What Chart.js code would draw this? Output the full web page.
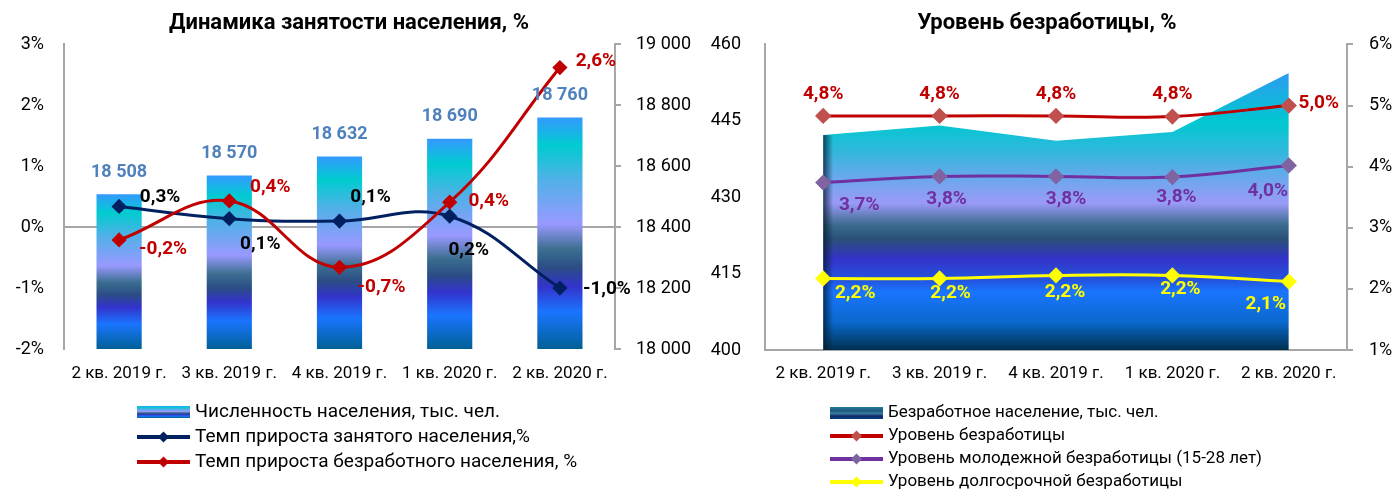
<!DOCTYPE html>
<html>
<head>
<meta charset="utf-8">
<script src="https://cdn.jsdelivr.net/npm/chart.js"></script>
<style>
  body { margin: 0; background: #fff; }
  .wrap { display: flex; width: 1396px; height: 491px; }
  canvas { display: block; }
</style>
</head>
<body>
<div class="wrap">
  <canvas id="employment" width="698" height="491"></canvas>
  <canvas id="unemployment" width="698" height="491"></canvas>
</div>
<script>
var quarters = ['2 кв. 2019 г.', '3 кв. 2019 г.', '4 кв. 2019 г.', '1 кв. 2020 г.', '2 кв. 2020 г.'];

// left chart
var population = [18508, 18570, 18632, 18690, 18760];
var employedGrowth = [0.34, 0.14, 0.1, 0.18, -1.0];
var unemployedGrowth = [-0.21, 0.43, -0.66, 0.41, 2.62];
var growthTicks = [-2, -1, 0, 1, 2, 3];
var populationTicks = [18000, 18200, 18400, 18600, 18800, 19000];

// right chart
var unemployedPop = [442.2, 444.1, 441.1, 442.8, 454.4];
var unemploymentRate = [4.83, 4.83, 4.83, 4.82, 5.0];
var youthRate = [3.74, 3.84, 3.84, 3.83, 4.02];
var longTermRate = [2.17, 2.17, 2.22, 2.22, 2.12];
var countTicks = [400, 415, 430, 445, 460];
var rateTicks = [1, 2, 3, 4, 5, 6];

Chart.defaults.font.family = "Roboto, 'DejaVu Sans', sans-serif";
Chart.defaults.color = '#000';
Chart.defaults.animation = false;

var GRAY = '#a6a6a6';
var FONT = "Roboto, 'DejaVu Sans', sans-serif";

var barStops = [[0, '#3399ff'], [0.12, '#00ccd0'], [0.26, '#4cb2e6'], [0.46, '#9999ff'], [0.57, '#3b6e8f'],
  [0.65, '#2b4c86'], [0.73, '#3333cc'], [0.84, '#1a75ff'], [1, '#006096']];
var areaStops = [[0, '#2d9bf0'], [0.18, '#00c8d0'], [0.28, '#30b8dc'], [0.38, '#6aa8ec'], [0.47, '#9a9af8'],
  [0.55, '#3a6a8c'], [0.6, '#2a5078'], [0.67, '#3333c8'], [0.75, '#2255e0'], [0.79, '#1a75ff'],
  [0.9, '#0a68cc'], [1, '#003050']];
var darkStops = [[0, '#2a7a9a'], [0.3, '#1a5a80'], [0.55, '#3a7aa0'], [0.75, '#102a6a'], [1, '#0a3a80']];

function stripes(ctx, top, bottom, stops) {
  var g = ctx.createLinearGradient(0, top, 0, bottom);
  stops.forEach(function(s) { g.addColorStop(s[0], s[1]); });
  return g;
}

function pct(v) { return v.toFixed(1).replace('.', ',') + '%'; }
function spaced(v) { return String(v).replace(/\B(?=(\d{3})+(?!\d))/g, ' '); }

// text labels next to bars and points
var pointLabels = {
  id: 'pointLabels',
  afterDatasetsDraw: function(chart) {
    var ctx = chart.ctx;
    ctx.save();
    ctx.textAlign = 'center';
    ctx.textBaseline = 'middle';
    chart.data.datasets.forEach(function(ds, i) {
      if (!ds.tag) return;
      ctx.font = 'bold ' + (ds.tag.size || 19) + 'px ' + FONT;
      chart.getDatasetMeta(i).data.forEach(function(el, j) {
        var off = ds.tag.shift[j];
        ctx.fillStyle = ds.tag.color;
        ctx.fillText(ds.tag.text(ds.data[j]), el.x + off[0], el.y + off[1]);
      });
    });
    ctx.restore();
  }
};

// legend as a vertical list under the plot
var listLegend = {
  id: 'listLegend',
  afterDraw: function(chart, args, opts) {
    var ctx = chart.ctx;
    ctx.save();
    ctx.font = opts.size + 'px ' + FONT;
    ctx.textBaseline = 'middle';
    chart.data.datasets.forEach(function(ds, i) {
      var y = opts.y + i * opts.step;
      var x = opts.x;
      if (ds.icon) {
        ctx.fillStyle = stripes(ctx, y - 6, y + 6, ds.icon);
        ctx.fillRect(x, y - 6, 53, 12);
      } else {
        ctx.strokeStyle = ds.borderColor;
        ctx.lineWidth = 4;
        ctx.beginPath();
        ctx.moveTo(x, y);
        ctx.lineTo(x + 53, y);
        ctx.stroke();
        ctx.fillStyle = ds.pointBackgroundColor;
        ctx.beginPath();
        ctx.moveTo(x + 26.5, y - 5.5);
        ctx.lineTo(x + 32, y);
        ctx.lineTo(x + 26.5, y + 5.5);
        ctx.lineTo(x + 21, y);
        ctx.closePath();
        ctx.fill();
      }
      ctx.fillStyle = '#000';
      ctx.fillText(ds.label, x + opts.gap, y);
    });
    ctx.restore();
  }
};

// darker left edge of the area
var edgeShade = {
  id: 'edgeShade',
  afterDatasetDraw: function(chart, args) {
    if (args.index !== 0) return;
    var p = args.meta.data[0];
    var ctx = chart.ctx;
    var g = ctx.createLinearGradient(p.x, 0, p.x + 10, 0);
    g.addColorStop(0, 'rgba(0,25,45,0.75)');
    g.addColorStop(1, 'rgba(0,25,45,0)');
    ctx.save();
    ctx.fillStyle = g;
    ctx.fillRect(p.x, p.y, 10, chart.chartArea.bottom - p.y);
    ctx.restore();
  }
};

function fixTicks(list) {
  return function(scale) {
    scale.ticks = list.map(function(v) { return {value: v}; });
  };
}

var ctx1 = document.getElementById('employment').getContext('2d');
new Chart(ctx1, {
  type: 'bar',
  data: {
    labels: quarters,
    datasets: [
      {
        type: 'bar',
        label: 'Численность населения, тыс. чел.',
        data: population,
        yAxisID: 'y2',
        order: 3,
        barPercentage: 0.41,
        categoryPercentage: 1,
        icon: barStops,
        backgroundColor: function(c) {
          var chart = c.chart, s = chart.scales.y2;
          if (!chart.chartArea || c.type !== 'data' || !s) return '#3399ff';
          var top = s.getPixelForValue(c.raw), bottom = s.getPixelForValue(s.min);
          if (!isFinite(top) || !isFinite(bottom)) return '#3399ff';
          return stripes(chart.ctx, top, bottom, barStops);
        },
        tag: {color: '#4f81bd', size: 18, text: spaced, shift: [[0, -22], [0, -22], [0, -22], [0, -22], [0, -22]]}
      },
      {
        type: 'line',
        label: 'Темп прироста занятого населения,%',
        data: employedGrowth,
        yAxisID: 'y',
        order: 2,
        borderColor: '#002060',
        pointBackgroundColor: '#002060',
        pointBorderColor: '#002060',
        borderWidth: 3,
        pointStyle: 'rectRot',
        pointRadius: 5.5,
        tension: 0.4,
        tag: {color: '#000', text: pct, shift: [[41, -9], [31, 26], [31, -24], [19, 34], [47, 1]]}
      },
      {
        type: 'line',
        label: 'Темп прироста безработного населения, %',
        data: unemployedGrowth,
        yAxisID: 'y',
        order: 1,
        borderColor: '#c00000',
        pointBackgroundColor: '#c00000',
        pointBorderColor: '#c00000',
        borderWidth: 3,
        pointStyle: 'rectRot',
        pointRadius: 5.5,
        tension: 0.4,
        tag: {color: '#c00000', text: pct, shift: [[44, 9], [41, -14], [42, 20], [39, -1], [36, -6]]}
      }
    ]
  },
  options: {
    responsive: false,
    layout: {padding: {left: 0, right: 0, top: 0, bottom: 100}},
    plugins: {
      legend: {display: false},
      tooltip: {enabled: false},
      title: {
        display: true,
        text: 'Динамика занятости населения, %',
        font: {size: 22, weight: 'bold', family: FONT},
        color: '#000',
        padding: {top: 10, bottom: 8}
      },
      listLegend: {x: 137, y: 412, step: 25, size: 19, gap: 58}
    },
    scales: {
      x: {
        grid: {display: false, drawTicks: false},
        border: {display: false},
        ticks: {font: {size: 17}, padding: 15, maxRotation: 0},
        afterFit: function(s) { s.height = 42; }
      },
      y: {
        position: 'left',
        min: -2, max: 3,
        afterBuildTicks: fixTicks(growthTicks),
        grid: {
          drawTicks: false,
          lineWidth: 2,
          color: function(c) { return c.tick && c.tick.value === 0 ? GRAY : 'rgba(0,0,0,0)'; }
        },
        border: {color: GRAY, width: 2},
        ticks: {font: {size: 18}, padding: 20, callback: function(v) { return v + '%'; }},
        afterFit: function(s) { s.width = 64; }
      },
      y2: {
        position: 'right',
        min: 18000, max: 19000,
        afterBuildTicks: fixTicks(populationTicks),
        grid: {drawOnChartArea: false, tickLength: 6, color: GRAY, lineWidth: 2},
        border: {color: GRAY, width: 2},
        ticks: {font: {size: 18}, padding: 15, callback: function(v) { return spaced(v); }},
        afterFit: function(s) { s.width = 83; }
      }
    }
  },
  plugins: [pointLabels, listLegend]
});

var ctx2 = document.getElementById('unemployment').getContext('2d');
new Chart(ctx2, {
  type: 'line',
  data: {
    labels: quarters,
    datasets: [
      {
        label: 'Безработное население, тыс. чел.',
        data: unemployedPop,
        yAxisID: 'y',
        order: 10,
        fill: 'start',
        borderWidth: 0,
        pointRadius: 0,
        tension: 0,
        icon: darkStops,
        backgroundColor: function(c) {
          var chart = c.chart, s = chart.scales.y;
          if (!chart.chartArea || !s) return '#3399ff';
          var top = s.getPixelForValue(Math.max.apply(null, unemployedPop));
          if (!isFinite(top)) return '#3399ff';
          return stripes(chart.ctx, top, chart.chartArea.bottom, areaStops);
        }
      },
      {
        label: 'Уровень безработицы',
        data: unemploymentRate,
        yAxisID: 'y2',
        order: 3,
        borderColor: '#c00000',
        pointBackgroundColor: '#c0504d',
        pointBorderColor: '#c0504d',
        borderWidth: 3,
        pointStyle: 'rectRot',
        pointRadius: 6,
        tension: 0.4,
        tag: {color: '#c00000', text: pct, shift: [[0, -22], [0, -22], [0, -22], [0, -22], [30, -2]]}
      },
      {
        label: 'Уровень молодежной безработицы (15-28 лет)',
        data: youthRate,
        yAxisID: 'y2',
        order: 2,
        borderColor: '#7030a0',
        pointBackgroundColor: '#8064a2',
        pointBorderColor: '#8064a2',
        borderWidth: 3,
        pointStyle: 'rectRot',
        pointRadius: 6,
        tension: 0.4,
        tag: {color: '#7030a0', text: pct, shift: [[36, 23], [7, 23], [10, 23], [4, 20], [-21, 26]]}
      },
      {
        label: 'Уровень долгосрочной безработицы',
        data: longTermRate,
        yAxisID: 'y2',
        order: 1,
        borderColor: '#ffff00',
        pointBackgroundColor: '#ffff00',
        pointBorderColor: '#ffff00',
        borderWidth: 3,
        pointStyle: 'rectRot',
        pointRadius: 6,
        tension: 0.4,
        tag: {color: '#ffff00', text: pct, shift: [[32, 15], [11, 15], [9, 17], [8, 14], [-23, 23]]}
      }
    ]
  },
  options: {
    responsive: false,
    layout: {padding: {left: 0, right: 0, top: 0, bottom: 100}},
    plugins: {
      legend: {display: false},
      tooltip: {enabled: false},
      title: {
        display: true,
        text: 'Уровень безработицы, %',
        font: {size: 22, weight: 'bold', family: FONT},
        color: '#000',
        padding: {top: 10, bottom: 8}
      },
      listLegend: {x: 132, y: 413, step: 23, size: 17, gap: 58}
    },
    scales: {
      x: {
        offset: true,
        grid: {display: false, drawTicks: false},
        border: {display: true, color: GRAY, width: 2},
        ticks: {font: {size: 17}, padding: 14, maxRotation: 0},
        afterFit: function(s) { s.height = 41; }
      },
      y: {
        position: 'left',
        min: 400, max: 460,
        afterBuildTicks: fixTicks(countTicks),
        grid: {display: false, drawTicks: false},
        border: {color: GRAY, width: 2},
        ticks: {font: {size: 18}, padding: 24},
        afterFit: function(s) { s.width = 67; }
      },
      y2: {
        position: 'right',
        min: 1, max: 6,
        afterBuildTicks: fixTicks(rateTicks),
        grid: {drawOnChartArea: false, tickLength: 6, color: GRAY, lineWidth: 2},
        border: {color: GRAY, width: 2},
        ticks: {font: {size: 18}, padding: 16, callback: function(v) { return v + '%'; }},
        afterFit: function(s) { s.width = 49; }
      }
    }
  },
  plugins: [pointLabels, listLegend, edgeShade]
});
</script>
</body>
</html>
